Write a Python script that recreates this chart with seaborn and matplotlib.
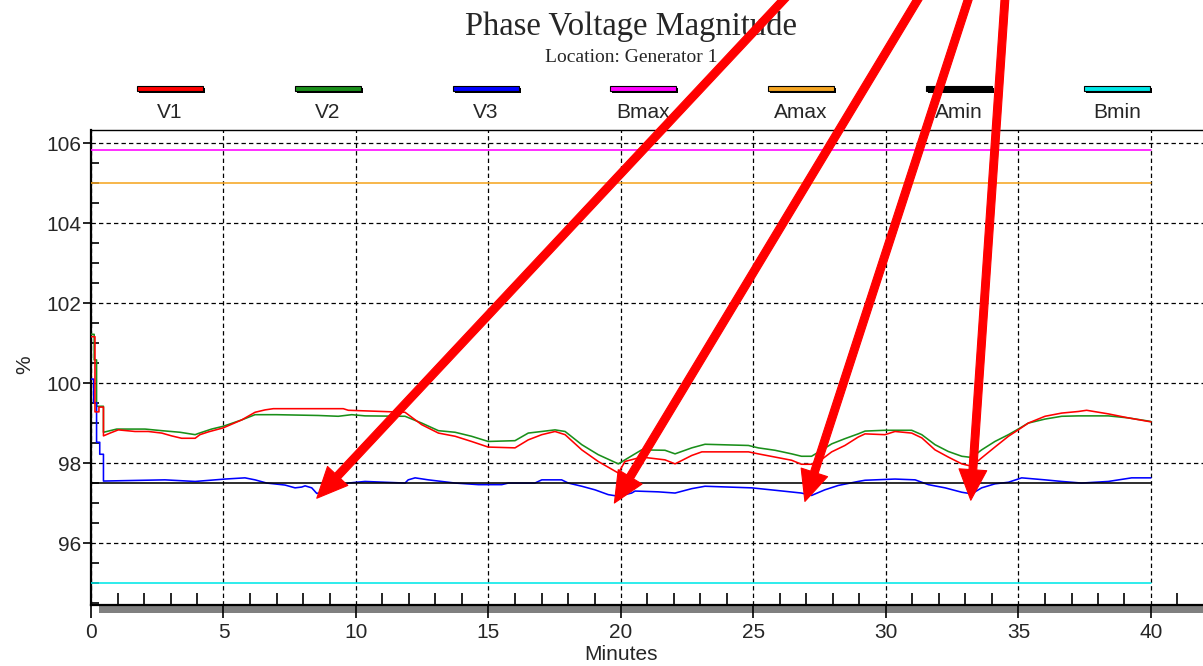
import numpy as np
import pandas as pd
import matplotlib
matplotlib.use("Agg")
import matplotlib.pyplot as plt
from matplotlib.patches import Rectangle
from matplotlib.ticker import MultipleLocator
import seaborn as sns

# ---------------- data ----------------
title = "Phase Voltage Magnitude"
subtitle = "Location: Generator 1"
x_label = "Minutes"
y_label = "%"

series_names = ["V1", "V2", "V3", "Bmax", "Amax", "Amin", "Bmin"]
series_colors = ["#ff0000", "#1a8f1a", "#0000ff", "#ff00ff", "#f5a623", "#000000", "#00e8e8"]

v1_x = [0, 0.15, 0.15, 0.3, 0.3, 0.47, 0.47, 0.72, 1.03, 1.66, 2.16, 2.67, 3.04, 3.42, 3.93,
        4.11, 4.43, 4.99, 5.69, 6.19, 6.57, 6.88, 9.52, 9.71, 11.85, 12.48, 13.11, 13.74,
        14.36, 14.99, 16.0, 16.5, 17.01, 17.51, 17.89, 18.52, 19.14, 19.9, 20.15, 20.78,
        21.66, 22.04, 22.67, 23.05, 24.81, 25.18, 25.81, 26.44, 26.81, 27.19, 27.57, 27.95,
        28.45, 28.95, 29.21, 29.96, 30.34, 30.97, 31.35, 31.85, 32.35, 32.86, 33.23, 33.61,
        34.11, 34.62, 34.99, 35.37, 36.0, 36.63, 37.26, 37.57, 38.39, 39.14, 40.0]
v1_y = [101.16, 101.16, 99.28, 99.28, 99.4, 99.4, 98.68, 98.75, 98.83, 98.79, 98.79, 98.75,
        98.68, 98.62, 98.62, 98.71, 98.78, 98.88, 99.08, 99.27, 99.33, 99.36, 99.36, 99.32,
        99.27, 98.96, 98.75, 98.67, 98.54, 98.4, 98.38, 98.58, 98.71, 98.79, 98.71, 98.33,
        98.04, 97.75, 98.04, 98.15, 98.08, 97.98, 98.19, 98.28, 98.28, 98.23, 98.15, 98.07,
        97.97, 97.97, 98.09, 98.28, 98.44, 98.65, 98.73, 98.71, 98.79, 98.75, 98.63, 98.33,
        98.15, 97.98, 97.92, 98.13, 98.4, 98.67, 98.83, 99.0, 99.17, 99.25, 99.29, 99.32,
        99.23, 99.13, 99.03]

v2_x = [0, 0.12, 0.12, 0.21, 0.21, 0.47, 0.47, 0.97, 2.04, 2.67, 3.36, 3.93, 4.05, 4.55,
        4.99, 5.69, 6.19, 7.0, 8.58, 9.33, 9.84, 10.34, 11.85, 12.48, 13.11, 13.74, 14.36,
        14.99, 16.0, 16.5, 17.01, 17.51, 17.89, 18.52, 19.14, 19.9, 20.4, 20.78, 21.66,
        22.04, 22.67, 23.17, 24.81, 25.18, 25.81, 26.44, 26.81, 27.19, 27.57, 27.95, 28.45,
        28.95, 29.21, 29.96, 30.97, 31.35, 31.85, 32.35, 32.86, 33.23, 33.61, 34.11, 34.62,
        34.99, 35.37, 36.0, 36.63, 37.26, 38.39, 39.14, 40.0]
v2_y = [101.22, 101.22, 100.58, 100.58, 99.42, 99.42, 98.77, 98.85, 98.85, 98.81, 98.77,
        98.71, 98.74, 98.85, 98.92, 99.08, 99.21, 99.21, 99.19, 99.17, 99.21, 99.18, 99.17,
        99.0, 98.81, 98.77, 98.67, 98.54, 98.56, 98.75, 98.79, 98.83, 98.79, 98.46, 98.21,
        97.98, 98.18, 98.33, 98.32, 98.23, 98.38, 98.47, 98.44, 98.38, 98.32, 98.23, 98.17,
        98.17, 98.32, 98.48, 98.61, 98.73, 98.8, 98.82, 98.82, 98.71, 98.46, 98.29, 98.17,
        98.14, 98.33, 98.54, 98.71, 98.85, 99.0, 99.1, 99.17, 99.18, 99.18, 99.13, 99.04]

v3_x = [0, 0.1, 0.1, 0.21, 0.21, 0.33, 0.33, 0.47, 0.47, 2.79, 3.93, 5.06, 5.81, 6.19,
        6.63, 7.32, 7.7, 7.95, 8.08, 8.33, 8.52, 8.83, 9.33, 9.71, 10.34, 11.85, 11.97,
        12.23, 12.73, 13.74, 14.62, 15.5, 15.75, 16.75, 17.01, 17.76, 18.01, 18.52, 19.02,
        19.52, 19.9, 20.4, 20.53, 21.41, 22.04, 22.67, 23.17, 24.93, 25.81, 26.81, 27.19,
        27.69, 28.2, 28.95, 29.21, 30.34, 31.1, 31.6, 32.23, 32.86, 33.23, 33.61, 34.11,
        34.62, 35.12, 36.0, 36.63, 37.38, 38.39, 39.27, 40.0]
v3_y = [100.1, 100.1, 99.51, 99.51, 98.52, 98.52, 98.22, 98.22, 97.55, 97.58, 97.54, 97.6,
        97.63, 97.58, 97.5, 97.45, 97.38, 97.4, 97.43, 97.38, 97.24, 97.29, 97.38, 97.5,
        97.54, 97.5, 97.58, 97.63, 97.58, 97.5, 97.46, 97.46, 97.5, 97.5, 97.58, 97.58,
        97.5, 97.42, 97.33, 97.21, 97.17, 97.25, 97.3, 97.28, 97.25, 97.36, 97.42, 97.38,
        97.32, 97.25, 97.19, 97.33, 97.44, 97.54, 97.57, 97.6, 97.58, 97.46, 97.38, 97.27,
        97.23, 97.38, 97.48, 97.52, 97.63, 97.58, 97.54, 97.5, 97.54, 97.63, 97.63]

limit_x = [0, 40]
bmax_level = 105.83
amax_level = 105.0
amin_level = 97.5
bmin_level = 95.0

# annotation arrows (tips on the V3 dips, tails above the chart)
arrow_tip_x = [8.52, 19.75, 26.94, 33.2]
arrow_tip_y = [97.12, 97.0, 97.04, 97.07]
arrow_tail_x = [27.0, 31.75, 33.4, 34.55]
arrow_tail_y = [110.2, 110.2, 110.2, 110.2]

x_major = [0, 5, 10, 15, 20, 25, 30, 35, 40]
y_major = [96, 98, 100, 102, 104, 106]

# ---------------- figure ----------------
sns.set_theme(style="white")
plt.rcParams["font.family"] = ["Liberation Sans", "DejaVu Sans"]

W, H = 1203, 666
fig = plt.figure(figsize=(W / 100, H / 100), dpi=100)
fig.patch.set_facecolor("white")

ax_left, ax_right, ax_top, ax_bot = 91, 1203, 130, 605
ax = fig.add_axes([ax_left / W, 1 - ax_bot / H, (ax_right - ax_left) / W, (ax_bot - ax_top) / H])
ax.set_facecolor("white")

series = {
    "V1": (v1_x, v1_y),
    "V2": (v2_x, v2_y),
    "V3": (v3_x, v3_y),
    "Bmax": (limit_x, [bmax_level] * 2),
    "Amax": (limit_x, [amax_level] * 2),
    "Amin": (limit_x, [amin_level] * 2),
    "Bmin": (limit_x, [bmin_level] * 2),
}
zorders = {"V1": 4, "V2": 3, "V3": 3, "Bmax": 3, "Amax": 3, "Amin": 5, "Bmin": 3}
for name, color in zip(series_names, series_colors):
    xs, ys = series[name]
    sns.lineplot(x=xs, y=ys, estimator=None, sort=False, color=color, lw=1.15,
                 ax=ax, zorder=zorders[name], legend=False)

ax.set_xlim(0, (ax_right - ax_left) / 26.5)
ax.set_ylim(94.45, 106.33)

ax.xaxis.set_major_locator(plt.FixedLocator(x_major))
ax.xaxis.set_minor_locator(MultipleLocator(1))
ax.yaxis.set_major_locator(plt.FixedLocator(y_major))
ax.yaxis.set_minor_locator(MultipleLocator(0.5))
ax.tick_params(axis="x", which="major", direction="out", length=9, width=1.2,
               color="black", labelsize=15, pad=4)
ax.tick_params(axis="x", which="minor", direction="in", length=9, width=1.2, color="black")
ax.tick_params(axis="y", which="major", direction="out", length=6, width=1.2,
               color="black", labelsize=15, pad=1)
ax.tick_params(axis="y", which="minor", direction="in", length=6, width=1.2, color="black")
ax.tick_params(bottom=True, left=True, which="both")

ax.grid(True, which="major", color="black", linestyle=(0, (3.5, 2.5)), linewidth=0.9)
ax.set_axisbelow(True)

for side in ["left", "bottom"]:
    ax.spines[side].set_color("black")
    ax.spines[side].set_linewidth(1.6)
ax.spines["top"].set_color("black")
ax.spines["top"].set_linewidth(1.0)
ax.spines["right"].set_visible(False)

# gray shadow under the x axis
ax.add_patch(Rectangle((8 / (ax_right - ax_left), -8 / (ax_bot - ax_top)), 1.0,
                       8 / (ax_bot - ax_top), transform=ax.transAxes, facecolor="#808080",
                       edgecolor="none", clip_on=False, zorder=0.5))

ax.set_xlabel("")
ax.set_ylabel("")
fig.text(621 / W, 1 - 655 / H, x_label, ha="center", va="center", fontsize=15)
fig.text(25 / W, 1 - 365 / H, y_label, ha="center", va="center", fontsize=15, rotation=90)

# title + subtitle (attached to axes so the arrows can sit above them)
ax.text(631 / W, 1 - 26 / H, title, transform=fig.transFigure, ha="center", va="center",
        fontsize=23.5, family="Liberation Serif")
ax.text(631 / W, 1 - 57 / H, subtitle, transform=fig.transFigure, ha="center", va="center",
        fontsize=14, family="Liberation Serif")

# legend row
leg_x0, leg_dx, bar_w, bar_h = 170, 157.8, 66, 5
for i, (name, color) in enumerate(zip(series_names, series_colors)):
    cx = leg_x0 + i * leg_dx
    ax.add_patch(Rectangle(((cx - bar_w / 2 + 2) / W, 1 - 93 / H), bar_w / W, bar_h / H,
                           transform=fig.transFigure, facecolor="black", edgecolor="none",
                           clip_on=False, zorder=6))
    ax.add_patch(Rectangle(((cx - bar_w / 2) / W, 1 - 91 / H), bar_w / W, bar_h / H,
                           transform=fig.transFigure, facecolor=color, edgecolor="black",
                           linewidth=0.8, clip_on=False, zorder=7))
    ax.text(cx / W, 1 - 113 / H, name, transform=fig.transFigure, ha="center",
            va="center", fontsize=15)

# red annotation arrows
for tx, ty, sx, sy in zip(arrow_tip_x, arrow_tip_y, arrow_tail_x, arrow_tail_y):
    ax.annotate("", xy=(tx, ty), xytext=(sx, sy), xycoords="data", textcoords="data",
                arrowprops=dict(arrowstyle="simple,head_length=1.1,head_width=1.0,tail_width=0.28",
                                facecolor="#ff0000", edgecolor="#ff0000", lw=0.8,
                                mutation_scale=20, shrinkA=0, shrinkB=0),
                annotation_clip=False, zorder=20)

fig.savefig("out.png", dpi=100, facecolor="white")
